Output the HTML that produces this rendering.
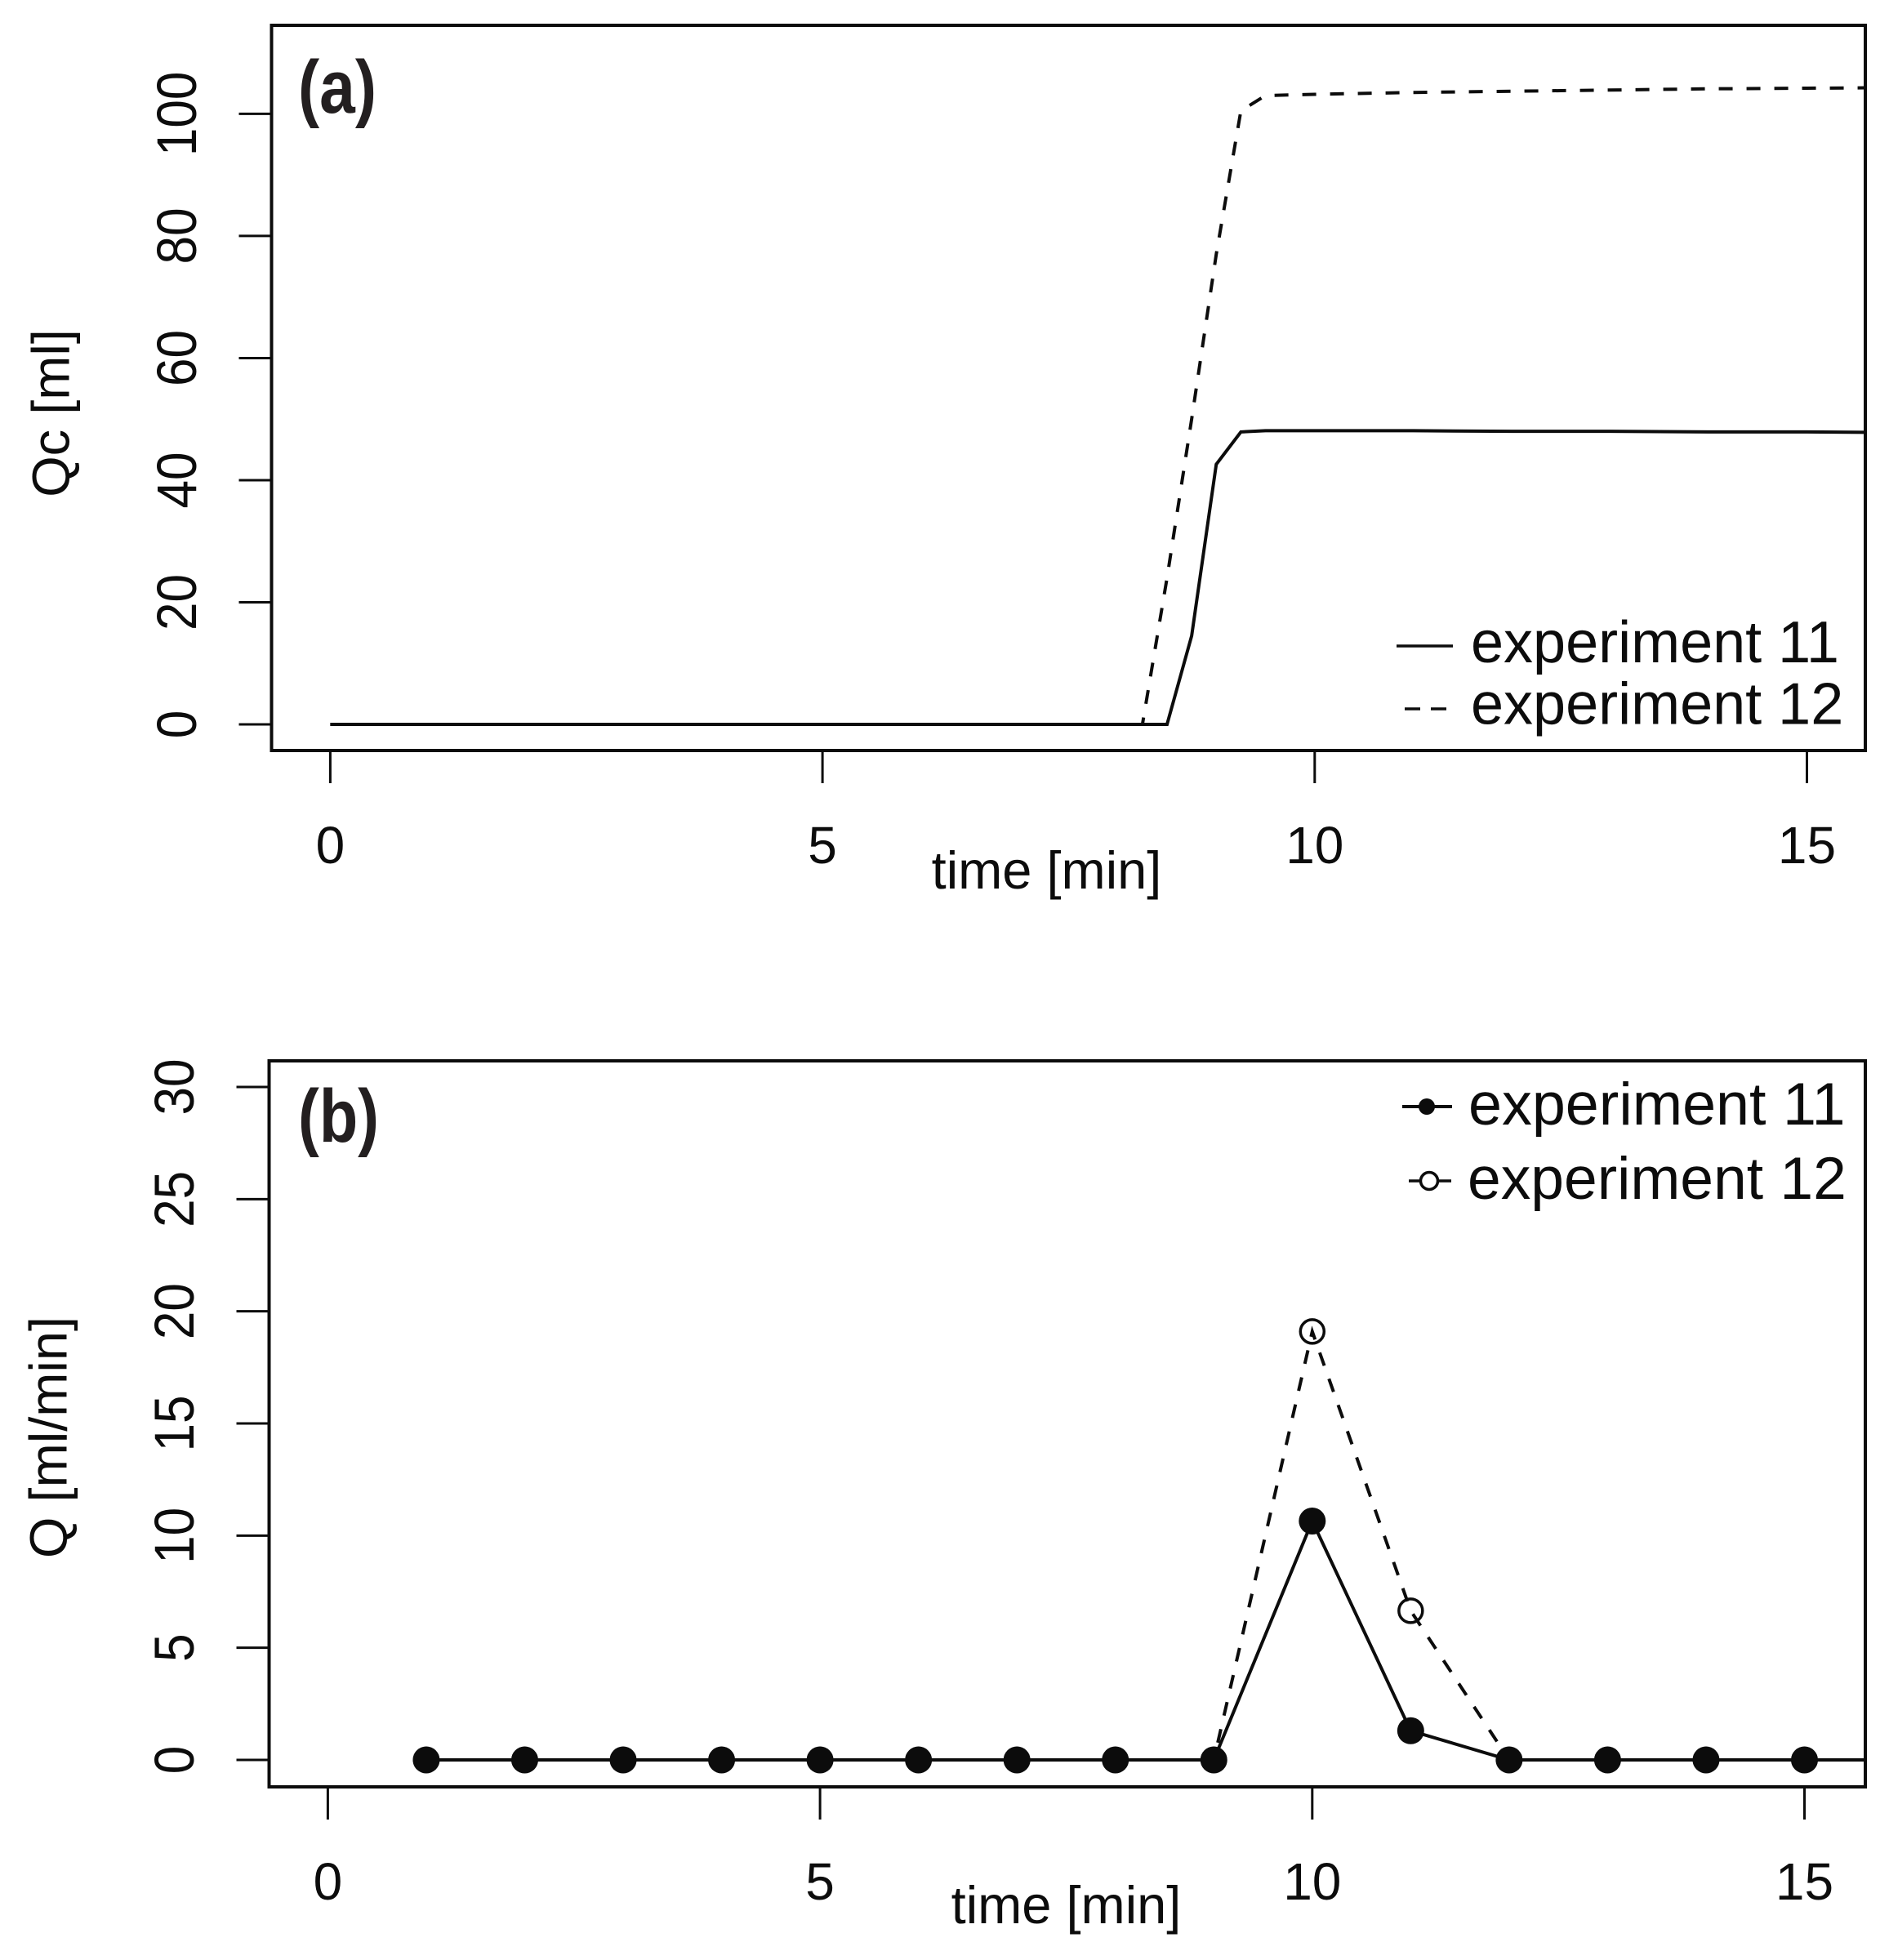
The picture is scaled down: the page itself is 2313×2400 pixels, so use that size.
<!DOCTYPE html>
<html><head><meta charset="utf-8"><title>Qc and Q versus time</title>
<style>
html,body{margin:0;padding:0;background:#fff;width:2313px;height:2400px;overflow:hidden}
svg{display:block}
text{font-family:"Liberation Sans",Arial,sans-serif;fill:#0c0c0c}
</style></head>
<body>
<svg id="fig" width="2313" height="2400" viewBox="0 0 2313 2400" xmlns="http://www.w3.org/2000/svg">
<defs>
<clipPath id="clipA"><rect x="332.5" y="31" width="1951.5" height="888"/></clipPath>
<clipPath id="clipB"><rect x="329.5" y="1299" width="1954.5" height="889"/></clipPath>
</defs>
<g id="panelA"></g>
<g id="panelB"></g>

<text x="365" y="138" font-size="92" font-weight="bold" textLength="96" lengthAdjust="spacingAndGlyphs" style="fill:#231f20">(a)</text>
<text x="365" y="1398" font-size="92" font-weight="bold" textLength="99" lengthAdjust="spacingAndGlyphs" style="fill:#231f20">(b)</text>

<text x="1281.5" y="1088" font-size="65" text-anchor="middle">time [min]</text>
<text x="1305.5" y="2355" font-size="65" text-anchor="middle">time [min]</text>
<text transform="translate(84.5,506) rotate(-90)" font-size="65" text-anchor="middle">Qc [ml]</text>
<text transform="translate(81.5,1760) rotate(-90)" font-size="65" text-anchor="middle">Q [ml/min]</text>

<g>
<line x1="1710" y1="791" x2="1779" y2="791" stroke="#0c0c0c" stroke-width="3.5"/>
<text x="1801" y="811" font-size="72">experiment 11</text>
<line x1="1720" y1="868" x2="1771" y2="868" stroke="#0c0c0c" stroke-width="3.5" stroke-dasharray="19 13"/>
<text x="1801" y="886.5" font-size="72">experiment 12</text>
</g>
<g>
<line x1="1717" y1="1355" x2="1778" y2="1355" stroke="#0c0c0c" stroke-width="4"/>
<circle cx="1747" cy="1355" r="10" fill="#0c0c0c"/>
<text x="1798" y="1377" font-size="73.7">experiment 11</text>
<line x1="1725" y1="1446" x2="1777" y2="1446" stroke="#0c0c0c" stroke-width="3.5"/>
<circle cx="1750" cy="1446" r="10.5" fill="#fff" stroke="#0c0c0c" stroke-width="3.5"/>
<text x="1797" y="1468" font-size="73.2">experiment 12</text>
</g>
</svg>
<script>
// Panel (a): cumulative discharge Qc [ml]
const timeA = [0, 8.25, 8.5, 8.75, 9, 9.25, 9.5, 10, 11, 12, 13, 14, 15, 16];
const qcExperiment11 = [0, 0, 0, 14.5, 42.6, 47.9, 48.1, 48.1, 48.1, 48, 48, 47.9, 47.9, 47.8];
const qcExperiment12 = [0, 0, 24, 50, 77, 100.5, 103, 103.2, 103.5, 103.7, 103.9, 104.1, 104.2, 104.3];
const xTicksA = [0, 5, 10, 15];
const yTicksA = [0, 20, 40, 60, 80, 100];

// Panel (b): discharge Q [ml/min]
const timeB = [1, 2, 3, 4, 5, 6, 7, 8, 9, 10, 11, 12, 13, 14, 15];
const qExperiment11 = [0, 0, 0, 0, 0, 0, 0, 0, 0, 10.65, 1.3, 0, 0, 0, 0];
const qExperiment12 = [0, 0, 0, 0, 0, 0, 0, 0, 0, 19.1, 6.65, 0, 0, 0, 0];
const xTicksB = [0, 5, 10, 15];
const yTicksB = [0, 5, 10, 15, 20, 25, 30];

const NS = 'http://www.w3.org/2000/svg';
const INK = '#0c0c0c';
function mk(parent, tag, attrs, txt) {
  const n = document.createElementNS(NS, tag);
  for (const k in attrs) n.setAttribute(k, attrs[k]);
  if (txt !== undefined) n.textContent = txt;
  parent.appendChild(n);
  return n;
}
function linear(d0, d1, r0, r1) { return v => r0 + (v - d0) * (r1 - r0) / (d1 - d0); }
function pathOf(xs, ys, sx, sy) { return xs.map((t, i) => (i ? 'L' : 'M') + sx(t).toFixed(2) + ' ' + sy(ys[i]).toFixed(2)).join(' '); }

function drawFrame(g, box, sx, sy, xTicks, yTicks) {
  xTicks.forEach(t => {
    const tick = mk(g, 'line', {x1: sx(t), x2: sx(t), y1: box.b, y2: box.b + 40, stroke: INK, 'stroke-width': 3});
    
    
    const lab = mk(g, 'text', {x: sx(t), y: box.xLabelY, 'font-size': 64, 'text-anchor': 'middle'}, String(t));
    
    
  });
  yTicks.forEach(v => {
    const tick = mk(g, 'line', {x1: box.l - 40, x2: box.l, y1: sy(v), y2: sy(v), stroke: INK, 'stroke-width': 3});
    
    
    const lab = mk(g, 'text', {transform: 'translate(' + box.yLabelX + ',' + sy(v) + ') rotate(-90) scale(0.97,1.07)', 'font-size': 64, 'text-anchor': 'middle'}, String(v));
    
    
  });
  const frame = mk(g, 'rect', {x: box.l, y: box.t, width: box.r - box.l, height: box.b - box.t, fill: 'none', stroke: INK, 'stroke-width': 4});
  
  
}

// Panel (a)
const gA = document.getElementById('panelA');
const boxA = {l: 332.5, r: 2284, t: 31, b: 919, xLabelY: 1057, yLabelX: 240};
const sxA = linear(0, 15, 404.4, 2212.5);
const syA = linear(0, 100, 887, 139.4);
const plotA = mk(gA, 'g', {'clip-path': 'url(#clipA)'});


const lineA12 = mk(plotA, 'path', {d: pathOf(timeA, qcExperiment12, sxA, syA), fill: 'none', stroke: INK, 'stroke-width': 4, 'stroke-dasharray': '17 17'});


const lineA11 = mk(plotA, 'path', {d: pathOf(timeA, qcExperiment11, sxA, syA), fill: 'none', stroke: INK, 'stroke-width': 4});


drawFrame(gA, boxA, sxA, syA, xTicksA, yTicksA);

// Panel (b)
const gB = document.getElementById('panelB');
const boxB = {l: 329.5, r: 2284, t: 1299, b: 2188, xLabelY: 2326, yLabelX: 237};
const sxB = linear(0, 15, 401.4, 2209.5);
const syB = linear(0, 30, 2155, 1331);
const plotB = mk(gB, 'g', {'clip-path': 'url(#clipB)'});


const lineB12 = mk(plotB, 'path', {d: pathOf(timeB, qExperiment12, sxB, syB), fill: 'none', stroke: INK, 'stroke-width': 4, 'stroke-dasharray': '17 17'});


timeB.forEach((t, i) => {
  const dot = mk(plotB, 'circle', {cx: sxB(t), cy: syB(qExperiment12[i]), r: 14.5, fill: 'none', stroke: INK, 'stroke-width': 3.5});
  
  
});
const lineB11 = mk(plotB, 'path', {d: pathOf(timeB, qExperiment11, sxB, syB) + ' H 2320', fill: 'none', stroke: INK, 'stroke-width': 4});


timeB.forEach((t, i) => {
  const dot = mk(plotB, 'circle', {cx: sxB(t), cy: syB(qExperiment11[i]), r: 16.5, fill: INK});
  
  
});
drawFrame(gB, boxB, sxB, syB, xTicksB, yTicksB);
</script>
</body></html>
